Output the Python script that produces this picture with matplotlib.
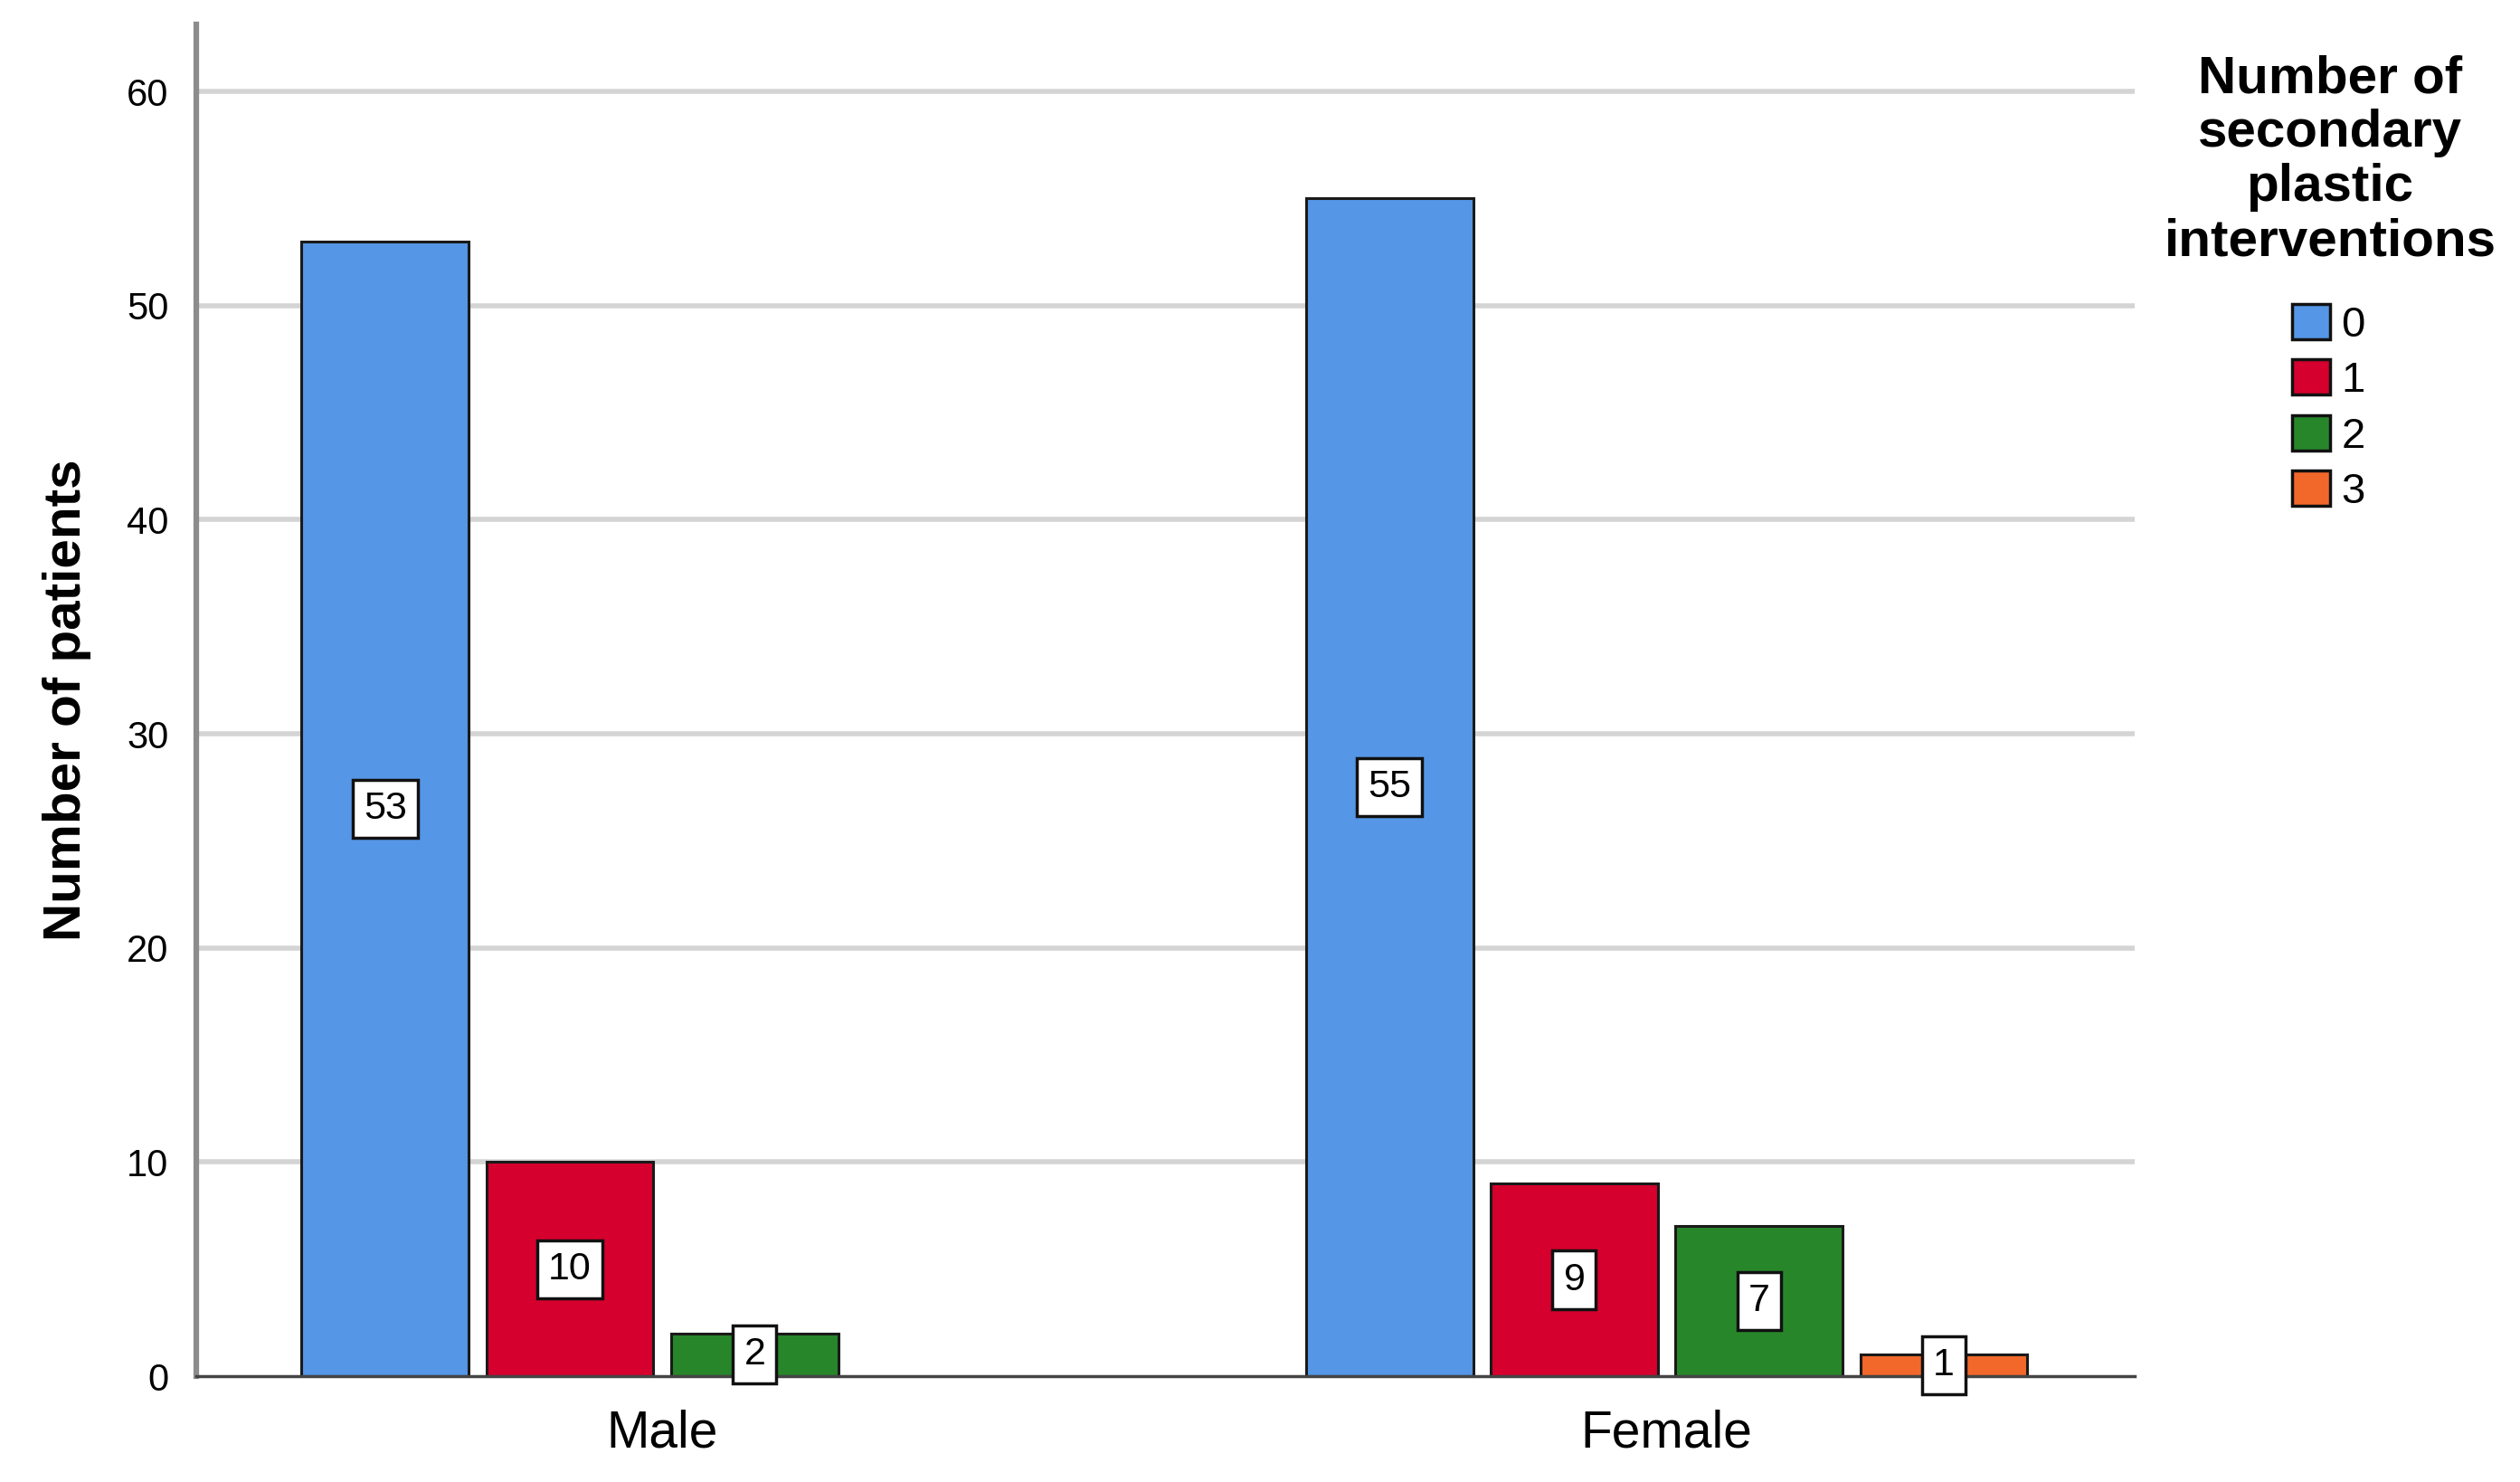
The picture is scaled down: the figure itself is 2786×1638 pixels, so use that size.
import matplotlib
matplotlib.use('Agg')
import matplotlib.pyplot as plt
import matplotlib.patches as patches
import numpy as np

plt.rcParams['font.family'] = ['Liberation Sans', 'DejaVu Sans']

# data
sexes = ['Male', 'Female']
intervention_levels = ['0', '1', '2', '3']
counts_0 = [53, 55]
counts_1 = [10, 9]
counts_2 = [2, 7]
counts_3 = [0, 1]   # no male patient with 3
y_ticks = [0, 10, 20, 30, 40, 50, 60]

colors = ['#5596e6', '#d5002d', '#28862a', '#f2682a']
series = [counts_0, counts_1, counts_2, counts_3]

fig = plt.figure(figsize=(27.86, 16.38), dpi=100)
ax = fig.add_axes([0.0779, 0.0714, 0.7692, 0.9121])

slot = 0.184
bar_w = 0.1664
x = np.arange(len(sexes))

for k, (vals, col) in enumerate(zip(series, colors)):
    off = (k - 1.5) * slot
    for i, v in enumerate(vals):
        if v <= 0:
            continue
        ax.bar(x[i] + off, v, width=bar_w, color=col, edgecolor='#1a1a1a',
               linewidth=2.2, zorder=3)
        ax.text(x[i] + off, v / 2, str(v), ha='center', va='center',
                fontsize=31, color='black', zorder=5,
                bbox=dict(boxstyle='square,pad=0.28', fc='white', ec='#111111', lw=2.5))

ax.set_xlim(-0.464, 1.466)
ax.set_ylim(0, 63.13)
ax.set_yticks(y_ticks)
ax.set_yticklabels([str(t) for t in y_ticks], fontsize=30)
ax.set_xticks(x)
ax.set_xticklabels(sexes, fontsize=41)
ax.tick_params(axis='both', length=0)
ax.tick_params(axis='y', pad=22)
ax.tick_params(axis='x', pad=26)

for t in y_ticks[1:]:
    ax.axhline(t, color='#d4d4d4', linewidth=4, zorder=1)

for s in ['top', 'right']:
    ax.spines[s].set_visible(False)
ax.spines['left'].set_color('#8c8c8c')
ax.spines['left'].set_linewidth(4.5)
ax.spines['bottom'].set_color('#444444')
ax.spines['bottom'].set_linewidth(2.5)
ax.spines['bottom'].set_zorder(4)

ax.set_ylabel('Number of patients', fontsize=42, fontweight='bold', labelpad=28)

# legend
handles = [patches.Patch(facecolor=c, edgecolor='#111111', linewidth=2.5) for c in colors]
fig.text(0.9246, 0.963, 'Number of\nsecondary\nplastic\ninterventions', ha='center', va='top',
         fontsize=42, fontweight='bold', linespacing=1.14)
leg = fig.legend(handles, intervention_levels, loc='upper left', bbox_to_anchor=(0.9095, 0.795),
                 frameon=False, fontsize=34, handlelength=0.9, handleheight=0.9,
                 handletextpad=0.25, labelspacing=0.33, borderpad=0, borderaxespad=0)

fig.savefig('out.png', dpi=100)
